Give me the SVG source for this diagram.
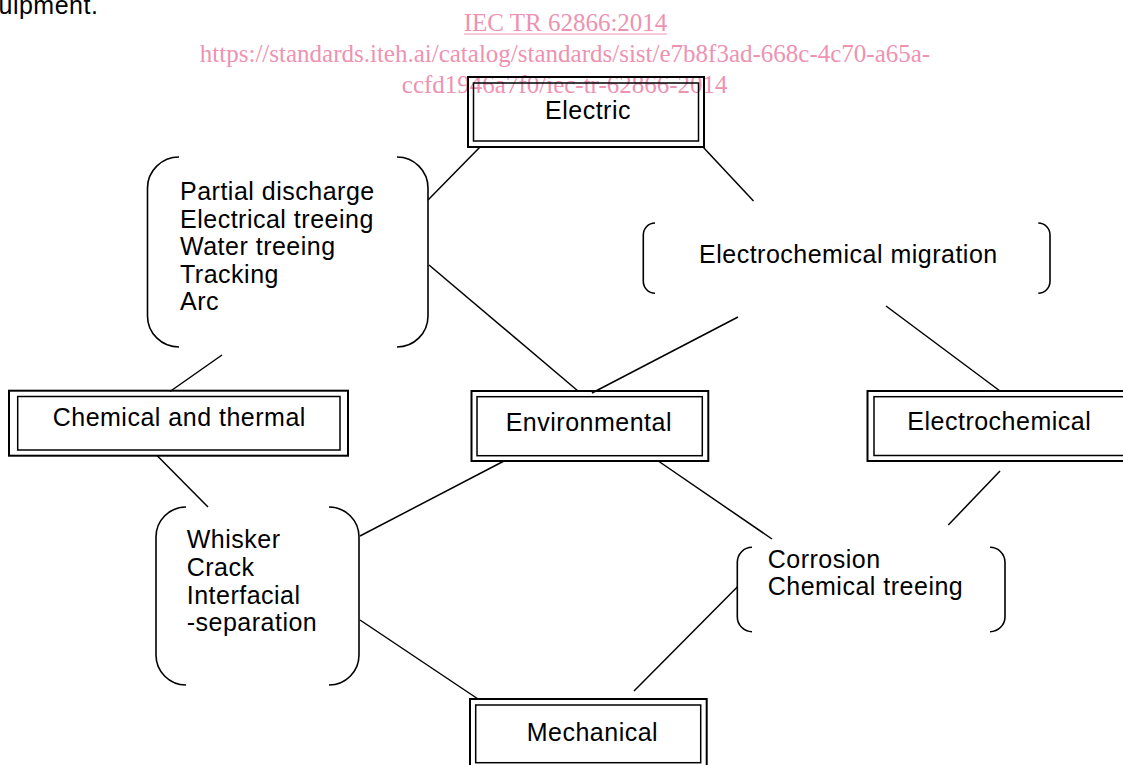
<svg xmlns="http://www.w3.org/2000/svg" width="1123" height="765" viewBox="0 0 1123 765">
  <style>
    .t { font-family: "Liberation Sans", Arial, sans-serif; font-size: 25px; letter-spacing: 0.5px; fill: #000; }
    .wm { font-family: "Liberation Serif", "Times New Roman", serif; font-size: 25px; fill: #ee92b2; text-anchor: middle; }
    .outer { fill: none; stroke: #000; stroke-width: 2; }
    .inner { fill: none; stroke: #000; stroke-width: 1.5; }
    .br { fill: none; stroke: #000; stroke-width: 1.6; }
    .ln { stroke: #000; stroke-width: 1.5; fill: none; }
  </style>
  <rect x="0" y="0" width="1123" height="765" fill="#fff"/>

  <text class="t" x="-1.5" y="14">uipment.</text>

  <g id="watermark">
    <text class="wm" x="565.5" y="30.7">IEC TR 62866:2014</text>
    <line x1="464" y1="34" x2="667" y2="34" stroke="#ee92b2" stroke-width="1.2"/>
    <text class="wm" x="565" y="61.7">https://standards.iteh.ai/catalog/standards/sist/e7b8f3ad-668c-4c70-a65a-</text>
    <text class="wm" x="564.7" y="93">ccfd1946a7f0/iec-tr-62866-2014</text>
  </g>

  <g id="connectors">
    <line class="ln" x1="480" y1="147" x2="428" y2="200"/>
    <line class="ln" x1="703" y1="147" x2="753.5" y2="201"/>
    <line class="ln" x1="429" y1="265" x2="578" y2="391"/>
    <line class="ln" x1="738" y1="317" x2="592" y2="393"/>
    <line class="ln" x1="886" y1="306" x2="1000" y2="391"/>
    <line class="ln" x1="222" y1="355" x2="170" y2="391.5"/>
    <line class="ln" x1="157" y1="455.5" x2="208" y2="507"/>
    <line class="ln" x1="360" y1="536" x2="504" y2="461"/>
    <line class="ln" x1="360" y1="620" x2="478" y2="699"/>
    <line class="ln" x1="659" y1="461.5" x2="772" y2="539"/>
    <line class="ln" x1="1000" y1="471" x2="948.3" y2="525"/>
    <line class="ln" x1="634" y1="691" x2="737.5" y2="586.7"/>
  </g>

  <g id="electric">
    <rect class="outer" x="468" y="77" width="236" height="70"/>
    <rect class="inner" x="473.5" y="83" width="225" height="58"/>
    <text class="t" x="545" y="119.3">Electric</text>
  </g>

  <g id="electrical-phenomena">
    <path class="br" d="M179,157 A31.5,31 0 0 0 147.5,188 V316 A31.5,31 0 0 0 179,347"/>
    <path class="br" d="M397,157 A31,31 0 0 1 428,188 V316 A31,31 0 0 1 397,347"/>
    <text class="t" x="180" y="200">Partial discharge</text>
    <text class="t" x="180" y="227.5">Electrical treeing</text>
    <text class="t" x="180" y="255">Water treeing</text>
    <text class="t" x="180" y="282.5">Tracking</text>
    <text class="t" x="180" y="310">Arc</text>
  </g>

  <g id="migration">
    <path class="br" d="M655,223 A11.7,12 0 0 0 643.3,235 V281.3 A11.7,12 0 0 0 655,293.3"/>
    <path class="br" d="M1038.3,223 A11.7,12 0 0 1 1050,235 V281.3 A11.7,12 0 0 1 1038.3,293.3"/>
    <text class="t" x="699" y="263.3">Electrochemical migration</text>
  </g>

  <g id="chemical-thermal">
    <rect class="outer" x="9" y="390.7" width="339" height="65"/>
    <rect class="inner" x="17.7" y="396.5" width="322.3" height="53.5"/>
    <text class="t" x="52.7" y="426">Chemical and thermal</text>
  </g>

  <g id="environmental">
    <rect class="outer" x="471.5" y="391" width="236.8" height="70"/>
    <rect class="inner" x="477" y="396.7" width="225.3" height="59"/>
    <text class="t" x="505.7" y="430.5">Environmental</text>
  </g>

  <g id="electrochemical">
    <rect class="outer" x="867.5" y="391" width="270" height="70"/>
    <rect class="inner" x="874" y="396.7" width="258" height="58.8"/>
    <text class="t" x="907.3" y="430">Electrochemical</text>
  </g>

  <g id="mechanical-phenomena">
    <path class="br" d="M186,507 A30,30 0 0 0 156,537 V655 A30,30 0 0 0 186,685"/>
    <path class="br" d="M329,507 A30,30 0 0 1 359,537 V655 A30,30 0 0 1 329,685"/>
    <text class="t" x="186.7" y="548.3">Whisker</text>
    <text class="t" x="186.7" y="576">Crack</text>
    <text class="t" x="186.7" y="603.5">Interfacial</text>
    <text class="t" x="186.7" y="631">-separation</text>
  </g>

  <g id="chemical-phenomena">
    <path class="br" d="M752,547.3 A14.7,15 0 0 0 737.3,562.3 V616.7 A14.7,15 0 0 0 752,631.7"/>
    <path class="br" d="M990,547.3 A15,15 0 0 1 1005,562.3 V616.7 A15,15 0 0 1 990,631.7"/>
    <text class="t" x="767.7" y="567.5">Corrosion</text>
    <text class="t" x="767.7" y="594.5">Chemical treeing</text>
  </g>

  <g id="mechanical">
    <rect class="outer" x="470" y="699" width="236.7" height="75"/>
    <rect class="inner" x="475.7" y="705" width="225" height="57.7"/>
    <text class="t" x="526.7" y="741">Mechanical</text>
  </g>
</svg>
